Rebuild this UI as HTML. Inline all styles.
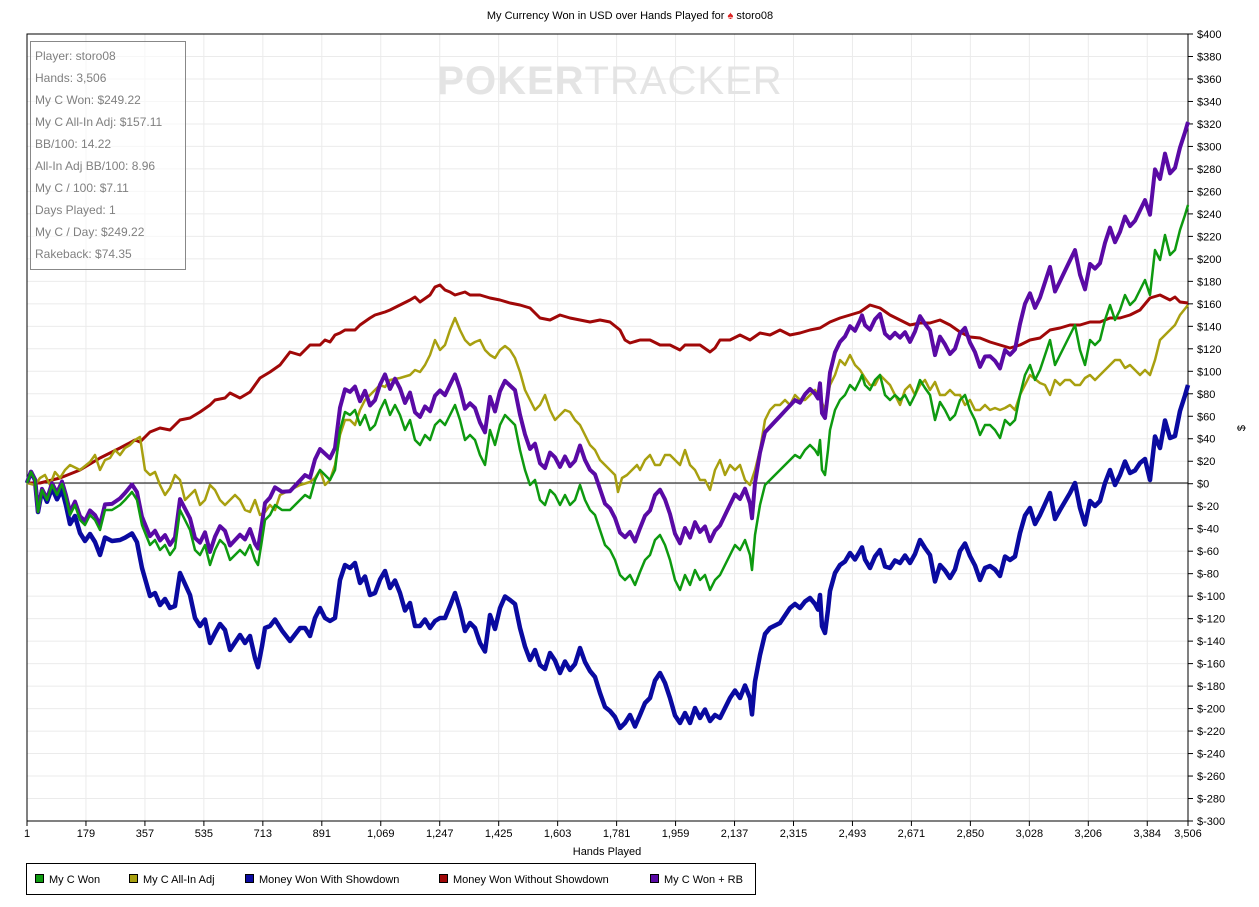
<!DOCTYPE html>
<html><head><meta charset="utf-8">
<style>
html,body{margin:0;padding:0;background:#fff;width:1259px;height:907px;overflow:hidden}
svg text{font-family:"Liberation Sans",sans-serif}
</style></head>
<body>
<svg id="s" width="1259" height="907" xmlns="http://www.w3.org/2000/svg"></svg>
<script>
const S=document.getElementById('s');let h='';
const L=27,R=1188,T=34,B=821,Z=483,py=22.486;
h+=`<text x="630" y="19" font-size="11" text-anchor="middle">My Currency Won in USD over Hands Played for <tspan fill="#d22">♠</tspan> storo08</text>`;
// grid
for(let i=0;i<=35;i++){let y=T+i*py;h+=`<line x1="${L}" x2="${R}" y1="${y}" y2="${y}" stroke="#ebebeb"/>`;
 let v=400-i*20;let lab=v<0?'$-'+(-v):'$'+v;
 h+=`<line x1="${R}" x2="${R+5}" y1="${y}" y2="${y}" stroke="#000"/><text x="${R+9}" y="${y+4}" font-size="11">${lab}</text>`;}
const xl=['1','179','357','535','713','891','1,069','1,247','1,425','1,603','1,781','1,959','2,137','2,315','2,493','2,671','2,850','3,028','3,206','3,384','3,506'];
for(let i=0;i<21;i++){let hv=i<20?1+178*i:3506;let x=L+(hv-1)*(R-L)/3505;
 h+=`<line x1="${x}" x2="${x}" y1="${T}" y2="${B}" stroke="#ebebeb"/><line x1="${x}" x2="${x}" y1="${B}" y2="${B+5}" stroke="#000"/><text x="${x}" y="${B+16}" font-size="11" text-anchor="middle">${xl[i]}</text>`;}
h+=`<text x="610" y="94" font-size="40" font-weight="bold" fill="#e4e4e4" text-anchor="middle" letter-spacing="1">POKER<tspan font-weight="normal">TRACKER</tspan></text>`;
h+=`<rect x="${L}" y="${T}" width="${R-L}" height="${B-T}" fill="none" stroke="#000"/>`;
h+=`<line x1="${L}" x2="${R}" y1="${Z}" y2="${Z}" stroke="#000"/>`;
h+=`<text x="1245" y="428" font-size="11" transform="rotate(-90 1245 428)" text-anchor="middle">$</text>`;
h+=`<text x="607" y="855" font-size="11" text-anchor="middle">Hands Played</text>`;
const G=[27,483,31,472,35,480,38,512,42,490,47,500,52,485,57,495,62,484,66,498,70,515,75,505,80,520,85,525,90,515,95,520,100,530,105,510,112,510,120,505,125,500,132,492,137,500,142,525,150,545,155,540,160,550,165,545,170,555,175,548,180,510,185,520,190,530,195,550,200,555,205,545,210,565,215,550,220,540,225,545,230,560,235,555,240,550,245,555,250,545,255,560,258,565,262,540,265,520,270,515,275,505,282,510,290,510,300,500,305,495,310,498,315,480,320,470,325,475,330,480,335,470,340,430,345,412,350,415,355,410,360,425,365,415,370,430,375,425,380,410,385,400,390,415,395,405,400,415,405,430,410,420,415,440,420,445,425,435,430,440,435,425,440,420,445,425,450,415,455,405,460,420,465,440,470,435,475,440,480,455,485,465,490,430,495,445,500,425,505,415,510,420,515,425,520,450,525,470,530,485,535,480,540,500,545,505,550,490,555,495,560,505,565,495,570,505,575,500,580,485,585,500,590,510,595,515,600,530,605,545,610,550,615,560,620,575,625,580,630,575,635,585,640,572,645,560,650,555,655,540,660,535,665,545,670,560,675,580,680,590,685,575,690,585,695,570,700,580,705,575,710,590,715,580,720,575,725,565,730,555,735,545,740,550,745,540,750,555,752,570,755,535,760,505,765,485,770,480,775,475,780,470,785,465,790,460,795,455,800,458,805,450,810,445,815,450,818,455,820,440,822,470,825,475,828,450,830,430,835,410,840,400,845,395,850,385,855,390,860,380,862,375,865,385,870,390,875,380,880,375,885,395,890,400,895,395,900,400,905,395,910,405,915,395,920,380,925,388,930,395,935,420,940,402,945,410,950,420,955,415,960,400,965,395,970,410,975,420,980,435,985,425,990,425,995,430,1000,438,1005,420,1010,425,1015,420,1020,395,1025,375,1030,365,1035,380,1040,370,1045,355,1050,340,1055,365,1060,355,1065,345,1070,335,1075,325,1080,350,1085,365,1090,340,1095,345,1100,340,1105,320,1110,305,1115,320,1120,310,1125,295,1130,305,1135,300,1140,290,1145,280,1150,295,1155,250,1160,260,1165,235,1170,255,1175,250,1180,230,1185,215,1188,205];
const Rd=[27,483,40,483,60,478,80,470,100,458,120,448,135,440,140,442,150,432,160,428,170,430,180,420,190,418,200,412,210,405,215,400,225,398,230,393,240,398,250,392,255,385,260,378,270,372,280,365,290,352,300,355,305,350,310,345,320,345,325,340,330,342,335,335,340,333,345,330,355,330,360,325,370,318,375,315,385,312,390,310,400,305,410,300,415,297,420,302,430,295,435,287,440,285,445,290,450,292,455,295,465,292,470,295,480,295,490,298,500,300,510,303,520,305,530,308,540,318,550,320,560,315,570,318,580,320,590,322,600,320,610,322,620,330,625,340,630,343,640,340,650,340,660,345,670,345,680,350,685,345,700,345,710,352,715,348,720,340,730,340,740,335,750,340,760,333,770,335,780,330,790,335,800,333,810,330,820,328,830,322,840,318,850,315,860,312,870,305,880,308,890,315,900,320,910,325,920,323,930,323,940,320,950,325,960,332,970,337,980,338,990,342,1000,345,1010,348,1020,345,1030,340,1040,338,1050,330,1060,328,1070,325,1080,325,1090,322,1100,322,1110,318,1120,318,1130,315,1140,310,1150,298,1160,295,1170,300,1175,297,1180,302,1188,303];
const Y=[27,483,35,485,40,478,45,475,50,485,55,472,60,478,65,470,70,465,80,470,90,462,95,455,100,470,105,460,110,458,115,450,120,455,125,448,130,445,135,440,140,437,145,470,150,475,155,472,160,485,165,495,170,488,175,475,180,480,185,500,190,495,195,490,200,505,205,500,210,485,215,490,220,500,225,505,230,500,235,495,240,500,245,510,250,512,255,500,260,515,265,512,270,505,275,510,280,495,290,490,300,485,310,482,315,478,320,470,325,485,330,480,335,465,340,435,345,420,350,420,355,425,360,410,365,400,370,395,375,390,380,385,385,387,390,380,400,378,410,375,415,370,420,372,425,365,430,355,435,340,440,350,445,345,450,330,455,318,460,330,465,340,470,345,475,342,480,340,485,350,490,355,495,358,500,350,505,346,510,350,515,358,520,372,525,390,530,400,535,410,540,405,545,395,550,410,555,420,560,415,565,410,570,412,575,420,580,425,585,435,590,445,595,450,600,460,605,465,610,470,615,475,618,492,622,478,627,475,632,470,637,465,640,470,645,460,650,455,655,465,660,465,665,455,670,455,675,460,680,465,685,450,690,465,695,470,700,480,705,480,710,490,715,470,720,460,725,475,730,465,735,470,740,465,745,480,750,485,755,470,760,450,765,420,770,410,775,405,780,405,785,400,790,405,795,395,800,400,805,400,810,395,815,390,820,398,825,410,830,385,835,375,840,360,845,365,850,355,855,365,860,370,865,378,870,385,875,385,880,375,885,380,890,385,895,395,900,405,905,390,910,385,915,395,920,385,925,380,930,390,935,382,940,395,945,395,950,390,955,395,960,395,965,405,970,400,975,410,980,410,985,405,990,410,995,408,1000,410,1005,408,1010,405,1015,410,1020,395,1030,375,1040,383,1045,385,1050,395,1055,380,1060,385,1065,380,1070,380,1075,385,1080,385,1085,378,1090,375,1095,380,1100,375,1105,370,1110,365,1115,360,1120,360,1125,368,1130,365,1135,370,1140,375,1145,370,1150,375,1155,360,1160,340,1165,335,1170,330,1175,325,1180,315,1188,305];
function interp(a,x){for(let i=0;i<a.length-2;i+=2){if(x<=a[i+2]){let t=(x-a[i])/(a[i+2]-a[i]);return a[i+1]+t*(a[i+3]-a[i+1]);}}return a[a.length-1];}
const blue=[],purp=[];
for(let i=0;i<G.length;i+=2){let x=G[i],g=G[i+1];let r=interp(Rd,x);
 blue.push(x, Z+(g-Z)-(r-Z)); purp.push(x, g-83*(x-L)/(R-L));}
function pl(a,c,w){let p=[];for(let i=0;i<a.length;i+=2)p.push(a[i].toFixed(1)+','+a[i+1].toFixed(1));return `<polyline points="${p.join(' ')}" fill="none" stroke="${c}" stroke-width="${w}" stroke-linejoin="round"/>`;}
h+=pl(blue,'#0a0aa0',4.5)+pl(Rd,'#a00808',3)+pl(Y,'#a8a010',2.5)+pl(purp,'#5a0aa5',4)+pl(G,'#0e9a10',2.5);
// stats box
h+=`<rect x="30.5" y="41.5" width="155" height="228" fill="#fff" fill-opacity="0.6" stroke="#888"/>`;
const st=['Player: storo08','Hands: 3,506','My C Won: $249.22','My C All-In Adj: $157.11','BB/100: 14.22','All-In Adj BB/100: 8.96','My C / 100: $7.11','Days Played: 1','My C / Day: $249.22','Rakeback: $74.35'];
st.forEach((t,i)=>h+=`<text x="35" y="${60+i*22}" font-size="12" fill="#808080">${t}</text>`);
// legend
h+=`<rect x="26.5" y="863.5" width="729" height="31" fill="#fff" stroke="#000"/>`;
const lg=[[35,'#0e9a10','My C Won'],[129,'#a8a010','My C All-In Adj'],[245,'#0a0aa0','Money Won With Showdown'],[439,'#a00808','Money Won Without Showdown'],[650,'#5a0aa5','My C Won + RB']];
lg.forEach(([x,c,t])=>h+=`<rect x="${x+0.5}" y="874.5" width="8" height="8" fill="${c}" stroke="#000"/><text x="${x+14}" y="883" font-size="11">${t}</text>`);
S.innerHTML=h;
</script>
</body></html>
